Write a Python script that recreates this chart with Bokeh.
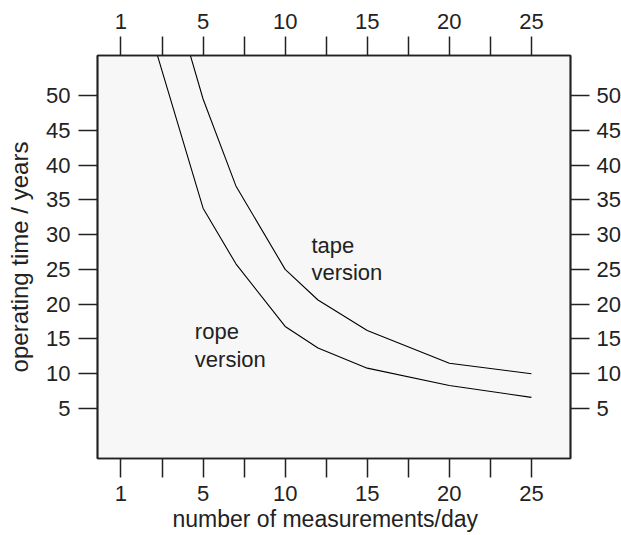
from bokeh.plotting import figure
from bokeh.models import Range1d, LinearAxis, FixedTicker, Label, Title
from bokeh.embed import file_html
from bokeh.resources import INLINE

# ---- data ----
# x positions are plotted on an evenly spaced axis whose first tick is labelled "1"
rope_x = [2, 5, 7, 10, 12, 15, 20, 25]
rope_years = [57.5, 33.8, 25.8, 16.8, 13.7, 10.8, 8.3, 6.6]
tape_x = [4, 5, 7, 10, 12, 15, 20, 25]
tape_years = [57.6, 49.5, 37.0, 25.0, 20.6, 16.2, 11.5, 10.0]

x_major = [0, 5, 10, 15, 20, 25]
x_minor = [2.5, 7.5, 12.5, 17.5, 22.5]
x_labels = {0: "1", 5: "5", 10: "10", 15: "15", 20: "20", 25: "25"}
y_ticks = [5, 10, 15, 20, 25, 30, 35, 40, 45, 50]

FONT = "Liberation Sans"
TICK_FS = "22px"
TXT = "#222222"

p = figure(frame_width=473, frame_height=403,
           x_range=Range1d(-1.43, 27.38), y_range=Range1d(-2.19, 55.75),
           output_backend="svg", toolbar_location=None,
           min_border_left=97, min_border_right=51,
           min_border_top=55, min_border_bottom=77,
           background_fill_color="#f7f7f7", border_fill_color="white",
           outline_line_color="#222222", outline_line_width=1.7)
p.xgrid.visible = False
p.ygrid.visible = False

def style_axis(ax):
    ax.major_tick_out = 19
    ax.major_tick_in = 0
    ax.minor_tick_out = 19
    ax.minor_tick_in = 0
    ax.major_tick_line_color = "#222222"
    ax.minor_tick_line_color = "#222222"
    ax.major_tick_line_width = 1.5
    ax.minor_tick_line_width = 1.5
    ax.axis_line_color = "#222222"
    ax.axis_line_width = 1.7
    ax.major_label_text_font = FONT
    ax.major_label_text_font_size = TICK_FS
    ax.major_label_text_color = TXT
    ax.major_label_standoff = 8
    ax.axis_label_text_font = FONT
    ax.axis_label_text_font_style = "normal"
    ax.axis_label_text_color = TXT

xt = FixedTicker(ticks=x_major, minor_ticks=x_minor)
yt = FixedTicker(ticks=y_ticks, minor_ticks=[])

xb = p.xaxis[0]
xb.ticker = xt
xb.major_label_overrides = x_labels
style_axis(xb)

yl = p.yaxis[0]
yl.ticker = yt
yl.axis_label = "operating time / years"
yl.axis_label_standoff = 10
style_axis(yl)
yl.axis_label_text_font_size = "24px"

xtop = LinearAxis(ticker=FixedTicker(ticks=x_major, minor_ticks=x_minor),
                  major_label_overrides=x_labels)
style_axis(xtop)
p.add_layout(xtop, "above")

yr = LinearAxis(ticker=FixedTicker(ticks=y_ticks, minor_ticks=[]))
style_axis(yr)
yr.major_tick_out = 19
yr.major_label_standoff = 7
p.add_layout(yr, "right")

p.line(rope_x, rope_years, line_color="black", line_width=1.1)
p.line(tape_x, tape_years, line_color="black", line_width=1.1)

for txt, x, y in [("tape", 11.6, 28.5), ("version", 11.6, 24.5),
                  ("rope", 4.5, 16.0), ("version", 4.5, 12.0)]:
    p.add_layout(Label(x=x, y=y, text=txt, text_font=FONT, text_font_size="22px",
                       text_color=TXT, text_baseline="alphabetic", text_align="left"))

# x-axis title, placed where the reference has it (slightly left of the frame centre)
xtitle = Title(text="number of measurements/day", align="left", offset=75,
               text_font=FONT, text_font_size="23px", text_font_style="normal",
               text_color=TXT, standoff=0)
p.add_layout(xtitle, "below")

open("out.html", "w").write(file_html(p, INLINE))
